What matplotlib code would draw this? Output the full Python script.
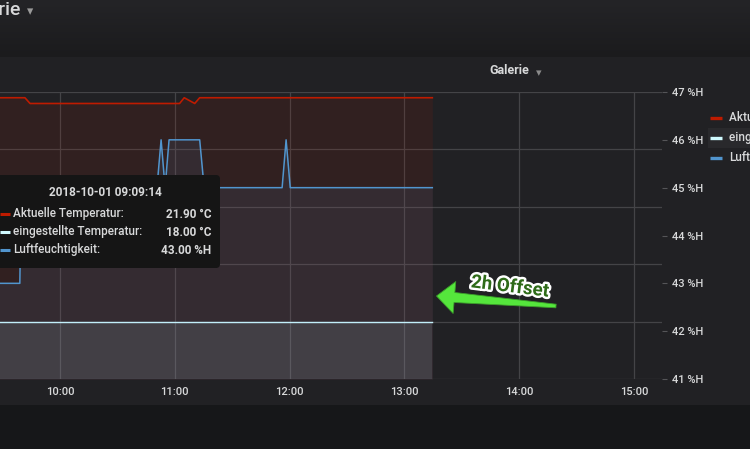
import numpy as np
import pandas as pd
import matplotlib
matplotlib.use("Agg")
import matplotlib.pyplot as plt
import matplotlib.dates as mdates
import matplotlib.ticker as mticker
import matplotlib.patheffects as pe
from matplotlib.patches import Rectangle, FancyBboxPatch, Polygon

plt.rcParams['font.family'] = ['Roboto', 'DejaVu Sans']

DAY = "2018-10-01 "

# Aktuelle Temperatur (°C, left axis)
temp_times = ["09:09:14", "09:41:40", "09:44:20", "11:02:30", "11:04:55",
              "11:10:25", "11:13:00", "13:14:35"]
temp_vals = [21.9, 21.9, 21.8, 21.8, 21.9, 21.8, 21.9, 21.9]

# eingestellte Temperatur (°C, left axis)
set_times = ["09:09:14", "13:14:35"]
set_vals = [18.0, 18.0]

# Luftfeuchtigkeit (%H, right axis)
hum_times = ["09:09:14", "09:39:00", "09:39:45", "10:50:40", "10:52:50",
             "10:54:55", "10:57:00", "11:13:00", "11:15:20", "11:56:05",
             "11:58:10", "12:00:20", "13:14:35"]
hum_vals = [43, 43, 45, 45, 46, 45, 46, 46, 45, 45, 46, 45, 45]

temp_grid = [17, 18, 19, 20, 21, 22]
hum_ticks = [41, 42, 43, 44, 45, 46, 47]
x_start, x_end = "09:28:38", "15:14:38"

series_names = ["Aktuelle Temperatur", "eingestellte Temperatur", "Luftfeuchtigkeit"]
tooltip_time = "2018-10-01 09:09:14"
tooltip_values = ["21.90 °C", "18.00 °C", "43.00 %H"]

RED = "#bf1b00"
WHITE = "#cffaff"
BLUE = "#5195ce"
TEXT = "#d8d9da"
GRID = "#444447"
PANEL = "#212124"
colors = [RED, WHITE, BLUE]

W, H = 750, 449
fig = plt.figure(figsize=(W / 100, H / 100), dpi=100, facecolor="#161719")

# background layer (pixel coordinates)
bg = fig.add_axes([0, 0, 1, 1], zorder=0)
grad = np.linspace(0, 1, 60).reshape(-1, 1)
top_c = np.array([0x24, 0x24, 0x27]) / 255
bot_c = np.array([0x1b, 0x1b, 0x1d]) / 255
img = top_c + (bot_c - top_c) * grad[..., None]
img = np.repeat(img, 2, axis=1)
bg.imshow(img, extent=(0, W, 57, 0), aspect="auto")
bg.add_patch(Rectangle((0, 57), W, 348, color=PANEL, lw=0))
bg.set_xlim(0, W)
bg.set_ylim(H, 0)
bg.axis("off")

bg.text(20, 10, "Galerie", ha="right", va="center", fontsize=14,
        fontweight="medium", color=TEXT)
bg.text(30, 12, "▾", ha="center", va="center", fontsize=9, color="#9a9a9a")
bg.text(509, 71, "Galerie", ha="center", va="center", fontsize=9,
        fontweight="bold", color=TEXT)
bg.text(539, 73, "▾", ha="center", va="center", fontsize=8, color="#8a8a8a")

# legend on the right
bg.add_patch(Rectangle((708, 128), 42, 20, color="#29292c", lw=0))
for i, (name, c) in enumerate(zip(series_names, colors)):
    y = 118 + 20 * i
    bg.plot([710, 722], [y, y], color=c, lw=2.4, solid_capstyle="butt")
    bg.text(729, y - 1, name, ha="left", va="center", fontsize=8.5,
            fontweight="medium", color=TEXT)

# main plot
t_temp = pd.to_datetime([DAY + t for t in temp_times])
t_set = pd.to_datetime([DAY + t for t in set_times])
t_hum = pd.to_datetime([DAY + t for t in hum_times])

ax = fig.add_axes([0, (H - 379) / H, 662 / W, 287 / H], zorder=1)
ax.patch.set_alpha(0)
ax2 = ax.twinx()
ax2.patch.set_alpha(0)

ax.fill_between(t_temp, temp_vals, temp_grid[0], color=RED, alpha=0.1, lw=0)
ax.fill_between(t_set, set_vals, temp_grid[0], color=WHITE, alpha=0.1, lw=0)
ax.plot(t_temp, temp_vals, color=RED, lw=1.2)
ax.plot(t_set, set_vals, color=WHITE, lw=1.0)
ax2.fill_between(t_hum, hum_vals, hum_ticks[0], color=BLUE, alpha=0.1, lw=0)
ax2.plot(t_hum, hum_vals, color=BLUE, lw=1.1)

ax.set_xlim(pd.Timestamp(DAY + x_start), pd.Timestamp(DAY + x_end))
ax.set_ylim(temp_grid[0], temp_grid[-1])
ax.set_yticks(temp_grid)
ax2.set_ylim(hum_ticks[0], hum_ticks[-1])
ax2.set_yticks(hum_ticks)
ax2.yaxis.set_major_formatter(mticker.FuncFormatter(lambda v, p: f"{v:.0f} %H"))

ax.xaxis.set_major_locator(mdates.HourLocator())
ax.xaxis.set_major_formatter(mdates.DateFormatter("%H:%M"))
ax.grid(True, color=GRID, lw=0.9)
ax.set_axisbelow(True)
ax.tick_params(axis="x", length=0, pad=6, labelsize=8, labelcolor=TEXT)
ax.tick_params(axis="y", left=False, labelleft=False)
ax2.tick_params(axis="y", length=3.5, color="#555558", pad=4,
                labelsize=8, labelcolor=TEXT)
for lbl in ax.get_xticklabels() + ax2.get_yticklabels():
    lbl.set_fontweight("medium")
for a in (ax, ax2):
    for s in a.spines.values():
        s.set_visible(False)

# foreground layer: tooltip and annotation
fg = fig.add_axes([0, 0, 1, 1], zorder=5)
fg.patch.set_alpha(0)
fg.set_xlim(0, W)
fg.set_ylim(H, 0)
fg.axis("off")

fg.add_patch(FancyBboxPatch((-10, 175), 230, 93,
                            boxstyle="round,pad=0,rounding_size=4",
                            fc="#151515", ec="none"))
fg.text(105, 192, tooltip_time, ha="center", va="center", fontsize=8.5,
        fontweight="bold", color=TEXT)
for i, (name, val, c) in enumerate(zip(series_names, tooltip_values, colors)):
    y = 214 + 18 * i
    fg.plot([0, 10], [y, y], color=c, lw=2.2, solid_capstyle="butt")
    fg.text(13, y, name + ":", ha="left", va="center", fontsize=8.5,
            fontweight="medium", color=TEXT)
    fg.text(211, y, val, ha="right", va="center", fontsize=8.5,
            fontweight="bold", color=TEXT)

# green arrow
tip = np.array([436.5, 296.0])
tail = np.array([556.0, 306.0])
u = (tail - tip) / np.linalg.norm(tail - tip)
n = np.array([-u[1], u[0]])
base = tip + 18 * u
pts = [tip, base + 16 * n, base + 5 * n, tail + 1.8 * n, tail - 1.8 * n,
       base - 5 * n, base - 16 * n]
fg.add_patch(Polygon(pts, closed=True, fc="#55e63c", ec="#3b9e2a", lw=0.6,
                     joinstyle="round"))
fg.text(510, 287, "2h Offset", ha="center", va="center", fontsize=13.5,
        fontweight="bold", color="#2e6b18", rotation=-7,
        path_effects=[pe.Stroke(linewidth=3.5, foreground="white"), pe.Normal()])

fig.savefig("out.png", dpi=100, facecolor=fig.get_facecolor())
